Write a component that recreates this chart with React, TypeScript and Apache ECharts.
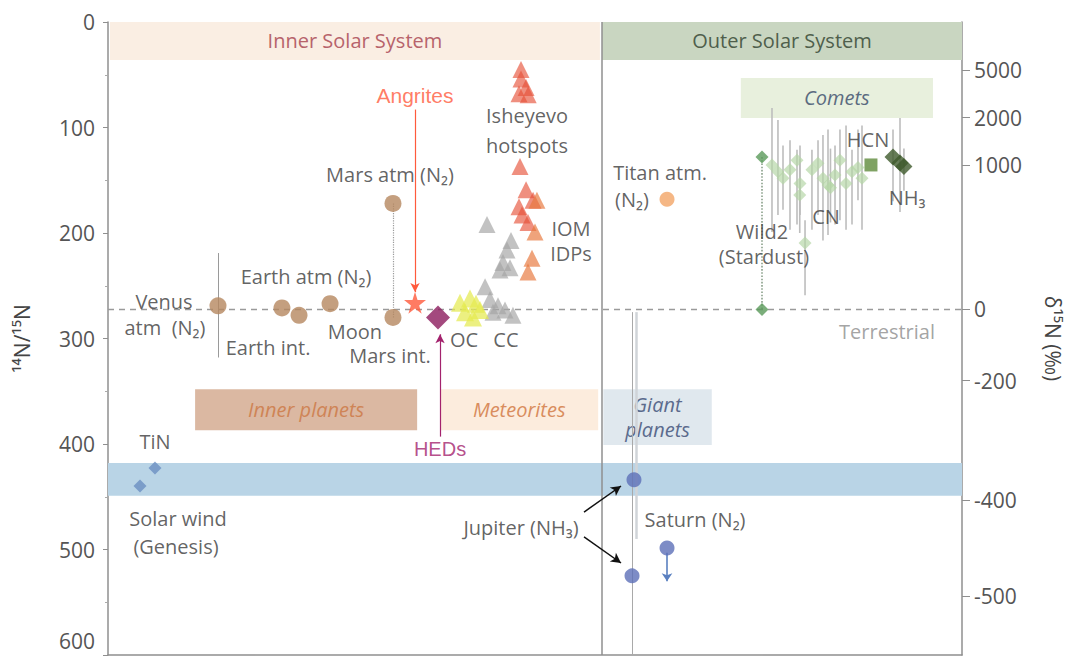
import React, { useEffect, useRef } from 'react';
import * as echarts from 'echarts';

// Reference value (terrestrial atmosphere 14N/15N)
const TERRESTRIAL = 272;
// Right axis ticks, delta 15N (permil)
const deltaTicks = [5000, 2000, 1000, 0, -200, -400, -500];

// Points: [x position, 14N/15N]
const innerPlanets = [[12.88, 269], [20.37, 271], [22.37, 278], [26.0, 267], [33.37, 280], [33.37, 172]];
const angrites = [[35.95, 266]];
const heds = [[38.64, 280]];
const ocTriangles = [[41.22, 266], [42.39, 262], [41.8, 275], [42.74, 280], [43.56, 273], [43.09, 267]];
const ccTriangles = [[44.15, 251], [44.73, 263], [45.67, 269], [46.49, 273], [47.42, 278], [45.08, 275]];
const iomGrey = [[44.38, 192], [47.19, 207], [46.72, 216], [46.25, 228], [47.07, 233], [45.9, 235]];
const hotspotRed = [[48.36, 45], [48.36, 54], [48.95, 62], [48.13, 68], [49.2, 69], [48.24, 137], [48.95, 159], [49.77, 169], [48.13, 175], [48.48, 183], [49.18, 190]];
const iomOrange = [[50.23, 169], [50.0, 199], [49.65, 224], [49.18, 237]];
const titan = [[65.46, 168]];
const wild2 = [[76.58, 128], [76.58, 272.5]];
// Comets CN: [x, value, low, high]
const cometCN = [
  [77.75, 135.5, 81.5, 199], [78.45, 142, 93, 183], [79.04, 148, 117, 178], [79.86, 140, 112, 197],
  [80.68, 131, 121, 192], [81.03, 153, 117, 183], [81.0, 164, 130, 200], [81.62, 209.5, 188, 259],
  [82.43, 140, 121, 197], [83.14, 134, 112, 183], [83.72, 148, 107, 207], [84.31, 154.5, 102, 202],
  [84.6, 157, 120, 190], [85.13, 145, 117, 192], [85.71, 131, 102, 188], [86.42, 153, 98, 197],
  [87.12, 142, 121, 192], [87.82, 138, 102, 169], [88.29, 148, 98, 197],
];
const cometHCN = [[89.34, 135.5]];
const cometNH3 = [[91.92, 128, 102, 170], [92.74, 133.6, 91, 180], [93.2, 137, 120, 160]];
const jupiter = [[61.59, 434], [61.36, 525]];
const saturn = [[65.46, 498.6]];
const tin = [[5.5, 422.7], [3.75, 439.8]];

// Annotation text: [text, x, y, style]
const annotations: [string, number, number, string][] = [
  ['Venus', 6.56, 265.4, 'dark'],
  ['atm  (N₂)', 6.67, 290, 'dark'],
  ['Earth atm (N₂)', 23.19, 240.8, 'dark'],
  ['Earth int.', 18.74, 309, 'dark'],
  ['Moon', 28.92, 293.5, 'dark'],
  ['Mars int.', 33.02, 316.5, 'dark'],
  ['Mars atm (N₂)', 33.02, 145, 'dark'],
  ['Angrites', 35.95, 70.1, 'angr'],
  ['HEDs', 38.88, 404.7, 'hed'],
  ['Isheyevo', 49.06, 88.2, 'dark'],
  ['hotspots', 49.06, 116.6, 'dark'],
  ['IOM', 54.22, 195.5, 'dark'],
  ['IDPs', 54.22, 219.5, 'dark'],
  ['OC', 41.69, 301.4, 'dark'],
  ['CC', 46.6, 301.4, 'dark'],
  ['Titan atm.', 64.64, 142.2, 'dark'],
  ['(N₂)', 61.36, 167.8, 'dark'],
  ['HCN', 89.0, 111.8, 'dark'],
  ['CN', 84.07, 184.8, 'dark'],
  ['NH₃', 93.56, 165.9, 'dark'],
  ['Wild2', 76.58, 198.5, 'dark'],
  ['(Stardust)', 76.81, 222.3, 'dark'],
  ['Terrestrial', 91.22, 293.8, 'grey'],
  ['TiN', 5.5, 398, 'dark'],
  ['Solar wind', 8.2, 471, 'dark'],
  ['(Genesis)', 7.96, 496.7, 'dark'],
  ['Jupiter (NH₃)', 48.36, 478.7, 'dark'],
  ['Saturn (N₂)', 68.74, 472, 'dark'],
];

const FONT = '"Open Sans", "DejaVu Sans", sans-serif';
const labelStyles: Record<string, any> = {
  dark: { color: '#3b3b3b', fontSize: 20, lineHeight: 22, fontFamily: FONT },
  grey: { color: '#8c8c8c', fontSize: 20, lineHeight: 22, fontFamily: FONT },
  angr: { color: '#ff5a3c', fontSize: 21, lineHeight: 22, fontFamily: '"Liberation Sans", Arial, sans-serif' },
  hed: { color: '#a3226d', fontSize: 20, lineHeight: 22, fontFamily: '"Liberation Sans", Arial, sans-serif' },
};

function band(name: string, x1: number, y1: number, x2: number, y2: number, fill: string, color: string, italic: boolean) {
  return [
    {
      name,
      coord: [x1, y1],
      itemStyle: { color: fill },
      label: {
        show: name !== '',
        position: 'inside',
        color,
        fontSize: 20,
        fontFamily: FONT,
        fontStyle: italic ? 'italic' : 'normal',
        lineHeight: 25,
      },
    },
    { coord: [x2, y2] },
  ];
}

function seg(x1: number, y1: number, x2: number, y2: number, lineStyle: any, arrow?: any) {
  return [
    { coord: [x1, y1], symbol: 'none', lineStyle },
    arrow ? { coord: [x2, y2], symbol: 'arrow', symbolSize: arrow.size, itemStyle: { color: lineStyle.color } } : { coord: [x2, y2], symbol: 'none' },
  ];
}

function scatter(name: string, data: number[][], symbol: string, size: any, color: string, extra: any = {}) {
  return {
    name,
    type: 'scatter',
    data: data.map((d) => [d[0], d[1]]),
    symbol,
    symbolSize: size,
    itemStyle: { color, ...(extra.itemStyle || {}) },
    clip: false,
    silent: true,
    z: extra.z ?? 5,
  };
}

const STAR = 'path://M50,0 L61,35 L98,35 L68,57 L79,91 L50,70 L21,91 L32,57 L2,35 L39,35 Z';

export default function App() {
  const ref = useRef<HTMLDivElement>(null);
  useEffect(() => {
    const chart = echarts.init(ref.current!, null, { renderer: 'svg' });
    const errorBars = [...cometCN, ...cometNH3].map((d) => [d[0], d[1], d[2], d[3]]);
    const tickValues = deltaTicks.map((d) => TERRESTRIAL / (1 + d / 1000));

    const option: any = {
      animation: false,
      backgroundColor: '#ffffff',
      grid: { left: 108, right: 113, top: 22, bottom: 5 },
      xAxis: {
        type: 'value',
        min: 0,
        max: 100,
        axisLine: { show: true, onZero: false, lineStyle: { color: '#8f8f8f', width: 1.5 } },
        axisTick: { show: false },
        axisLabel: { show: false },
        splitLine: { show: false },
      },
      yAxis: [
        {
          type: 'value',
          min: 0,
          max: 600,
          interval: 100,
          inverse: true,
          position: 'left',
          name: '¹⁴N/¹⁵N',
          nameLocation: 'middle',
          nameRotate: 90,
          nameGap: 76,
          nameTextStyle: { color: '#444', fontSize: 21, fontFamily: FONT },
          axisLine: { show: true, lineStyle: { color: '#8f8f8f', width: 1.5 } },
          axisTick: { show: true, length: 5, lineStyle: { color: '#8f8f8f' } },
          minorTick: { show: true, splitNumber: 2, length: 3, lineStyle: { color: '#aaa' } },
          axisLabel: {
            color: '#555',
            fontSize: 21,
            fontFamily: FONT,
            margin: 13,
            formatter: (v: number) => (v === 600 ? '{b|600}' : String(v)),
            rich: {
              b: { color: '#555', fontSize: 21, fontFamily: FONT, padding: [0, 0, 28, 0], verticalAlign: 'top' },
            },
          },
          splitLine: { show: false },
        },
        {
          type: 'value',
          min: 0,
          max: 600,
          inverse: true,
          position: 'right',
          name: 'δ¹⁵N (‰)',
          nameLocation: 'middle',
          nameRotate: -90,
          nameGap: 80,
          nameTextStyle: { color: '#444', fontSize: 21, fontFamily: FONT },
          axisLine: { show: true, lineStyle: { color: '#8f8f8f', width: 1.5 } },
          axisTick: { show: true, length: 8, customValues: tickValues, lineStyle: { color: '#8f8f8f' } },
          axisLabel: {
            show: true,
            customValues: tickValues,
            color: '#555',
            fontSize: 21,
            fontFamily: FONT,
            margin: 12,
            formatter: (v: number) => String(Math.round((TERRESTRIAL / v - 1) * 1000)),
          },
          splitLine: { show: false },
        },
      ],
      series: [
        {
          name: 'bands',
          type: 'line',
          data: [],
          silent: true,
          z: 1,
          markArea: {
            silent: true,
            data: [
              band('Inner Solar System', 0.23, 0, 57.6, 36, '#faeee3', '#b7636b', false),
              band('Outer Solar System', 57.85, 0, 100, 36, '#c9d6c1', '#4f5f4c', false),
              band('Comets', 74.1, 53, 96.6, 91, '#e8f0dd', '#5b6b80', true),
              band('Inner planets', 10.2, 348, 36.2, 387, '#dbb8a2', '#cf8456', true),
              band('Meteorites', 38.9, 348, 57.4, 387, '#fcecdd', '#d98d5e', true),
              band('Giant\nplanets', 58.0, 348, 70.7, 401, '#e0e8ee', '#5b6b8d', true),
              band('', 0, 418, 100, 449, '#b9d4e6', '#000', false),
            ],
          },
        },
        {
          name: 'lines',
          type: 'line',
          data: [],
          silent: true,
          z: 2,
          markLine: {
            silent: true,
            symbol: 'none',
            label: { show: false },
            data: [
              seg(0, TERRESTRIAL, 100, TERRESTRIAL, { color: '#9a9a9a', width: 1.3, type: [6, 5] }),
              seg(57.85, 0, 57.85, 600, { color: '#8f8f8f', width: 1.5, type: 'solid' }),
              seg(12.88, 219, 12.88, 318, { color: '#9a9a9a', width: 1, type: 'solid' }),
              seg(33.37, 172, 33.37, 280, { color: '#9a9a9a', width: 1.2, type: 'dotted' }),
              seg(76.58, 128, 76.58, 272.5, { color: '#8aa08a', width: 1.6, type: 'dotted' }),
              seg(61.83, 275, 61.83, 490, { color: '#d0d4d8', width: 2.5, type: 'solid' }),
              seg(61.36, 275, 61.36, 600, { color: '#a9a9a9', width: 1, type: 'solid' }),
            ],
          },
        },
        {
          name: 'arrows',
          type: 'line',
          data: [],
          silent: true,
          z: 6,
          markLine: {
            silent: true,
            label: { show: false },
            data: [
              seg(35.95, 83, 35.95, 256, { color: '#ff5a3c', width: 1.2, type: 'solid' }, { size: [7, 9] }),
              seg(38.88, 393, 38.88, 296, { color: '#a3226d', width: 1.2, type: 'solid' }, { size: [7, 9] }),
              seg(55.74, 464.5, 60.07, 439.8, { color: '#111', width: 1.5, type: 'solid' }, { size: [8, 10] }),
              seg(55.74, 488, 60.07, 512.8, { color: '#111', width: 1.5, type: 'solid' }, { size: [8, 10] }),
              seg(65.46, 503, 65.46, 530, { color: '#5a80c0', width: 1.6, type: 'solid' }, { size: [8, 8] }),
            ],
          },
        },
        {
          name: 'errorBars',
          type: 'custom',
          data: errorBars,
          silent: true,
          z: 3,
          clip: false,
          encode: { x: 0, y: 1 },
          renderItem: (_p: any, api: any) => {
            const p1 = api.coord([api.value(0), api.value(2)]);
            const p2 = api.coord([api.value(0), api.value(3)]);
            return {
              type: 'line',
              shape: { x1: p1[0], y1: p1[1], x2: p2[0], y2: p2[1] },
              style: { stroke: '#bdbdbd', lineWidth: 1.6 },
            };
          },
        },
        scatter('Solar wind / TiN', tin, 'diamond', 13, '#6b8fc2'),
        scatter('Inner planets', innerPlanets, 'circle', 17, '#b5875f'),
        scatter('Angrites', angrites, STAR, 22, '#ff5a3c'),
        scatter('HEDs', heds, 'diamond', 24, '#8c1c5e'),
        scatter('IOM grey', iomGrey, 'triangle', 17, 'rgba(165,165,165,0.85)'),
        scatter('CC', ccTriangles, 'triangle', 17, 'rgba(165,165,165,0.85)'),
        scatter('OC', ocTriangles, 'triangle', 18, 'rgba(228,234,80,0.9)'),
        scatter('Isheyevo', hotspotRed, 'triangle', 17, 'rgba(230,80,55,0.8)'),
        scatter('IOM orange', iomOrange, 'triangle', 17, 'rgba(232,120,60,0.85)'),
        scatter('Titan', titan, 'circle', 15, '#f2a566'),
        scatter('CN', cometCN, 'diamond', 13, 'rgba(180,214,165,0.85)'),
        scatter('Wild2', wild2, 'diamond', 13, '#5a9a5a'),
        scatter('HCN', cometHCN, 'rect', 13, '#5f8b3c'),
        scatter('NH3', cometNH3, 'diamond', 17, '#3f5a2c'),
        scatter('Jupiter', jupiter, 'circle', 15, '#5c6fb8'),
        scatter('Saturn', saturn, 'circle', 15, '#5c6fb8'),
        {
          name: 'labels',
          type: 'scatter',
          silent: true,
          clip: false,
          symbolSize: 0,
          z: 10,
          data: annotations.map(([t, x, y, s]) => ({
            value: [x, y],
            label: {
              show: true,
              position: 'inside',
              formatter: t,
              align: 'center',
              verticalAlign: 'middle',
              ...labelStyles[s],
            },
          })),
        },
      ],
    };
    chart.setOption(option);
    return () => chart.dispose();
  }, []);
  return (
    <div
      ref={ref}
      style={{ position: 'fixed', left: 0, top: 0, width: 1075, height: 660, background: '#fff' }}
    />
  );
}
